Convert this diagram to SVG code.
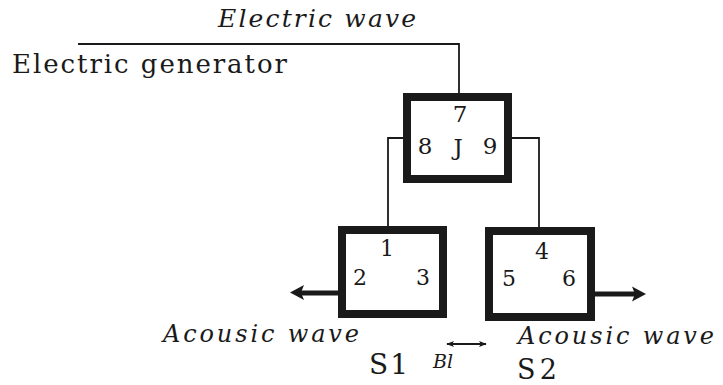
<svg xmlns="http://www.w3.org/2000/svg" width="723" height="385" viewBox="0 0 723 385">
  <style>
    .t { font-family: "DejaVu Serif", "Liberation Serif", serif; fill: #1a1a1a; }
    .i { font-style: italic; }
    .box { fill: #ffffff; stroke: #1a1a1a; stroke-width: 8; }
    .wire { fill: none; stroke: #1a1a1a; stroke-width: 1.8; }
    .thick { fill: none; stroke: #1a1a1a; stroke-width: 5; }
    .head { fill: #1a1a1a; }
  </style>
  <defs>
    <marker id="sm" viewBox="0 0 10 10" refX="9" refY="5" markerWidth="8" markerHeight="8" orient="auto-start-reverse" markerUnits="userSpaceOnUse">
      <path d="M0,1 L10,5 L0,9 L2.5,5 Z" fill="#1a1a1a"/>
    </marker>
  </defs>
  <rect width="723" height="385" fill="#ffffff"/>

  <g id="labels">
    <text class="t i" x="218" y="27" font-size="25" textLength="198" lengthAdjust="spacing">Electric wave</text>
  </g>

  <g id="generator">
    <text class="t" x="12" y="73" font-size="26" textLength="275" lengthAdjust="spacing">Electric generator</text>
  </g>

  <g id="connectors">
    <polyline class="wire" points="78,44 459,44 459,93"/>
    <polyline class="wire" points="403,138 388,138 388,226"/>
    <polyline class="wire" points="512,138 539,138 539,227"/>
    <line class="thick" x1="338" y1="293" x2="300" y2="293"/>
    <path class="head" d="M290,292.5 L304,285 L301,292.5 L304,300 Z"/>
    <line class="thick" x1="595" y1="294" x2="635" y2="294"/>
    <path class="head" d="M646,294 L632,286.5 L635,294 L632,301.5 Z"/>
    <line x1="447" y1="344" x2="486" y2="344" stroke="#1a1a1a" stroke-width="1.8" marker-start="url(#sm)" marker-end="url(#sm)"/>
  </g>

  <g id="J">
    <rect class="box" x="407" y="97" width="101" height="82"/>
    <text class="t" x="460" y="122" font-size="23" text-anchor="middle">7</text>
    <text class="t" x="425" y="154" font-size="23" text-anchor="middle">8</text>
    <text class="t" x="458" y="155" font-size="23" text-anchor="middle">J</text>
    <text class="t" x="490" y="154" font-size="23" text-anchor="middle">9</text>
  </g>

  <g id="S1">
    <rect class="box" x="342" y="230" width="101" height="84"/>
    <text class="t" x="387" y="256" font-size="22" text-anchor="middle">1</text>
    <text class="t" x="360" y="285" font-size="22" text-anchor="middle">2</text>
    <text class="t" x="423" y="285" font-size="22" text-anchor="middle">3</text>
  </g>

  <g id="S2">
    <rect class="box" x="489" y="231" width="102" height="86"/>
    <text class="t" x="542" y="259" font-size="22" text-anchor="middle">4</text>
    <text class="t" x="509" y="286" font-size="22" text-anchor="middle">5</text>
    <text class="t" x="569" y="286" font-size="22" text-anchor="middle">6</text>
  </g>

  <g id="bottom-labels">
    <text class="t i" x="163" y="342" font-size="24" textLength="196" lengthAdjust="spacing">Acousic wave</text>
    <text class="t i" x="518" y="344" font-size="24" textLength="196" lengthAdjust="spacing">Acousic wave</text>
    <text class="t" x="369" y="374" font-size="28" textLength="39" lengthAdjust="spacing">S1</text>
    <text class="t i" x="433" y="368" font-size="19">Bl</text>
    <text class="t" x="517" y="379" font-size="27" textLength="40" lengthAdjust="spacing">S2</text>
  </g>
</svg>
